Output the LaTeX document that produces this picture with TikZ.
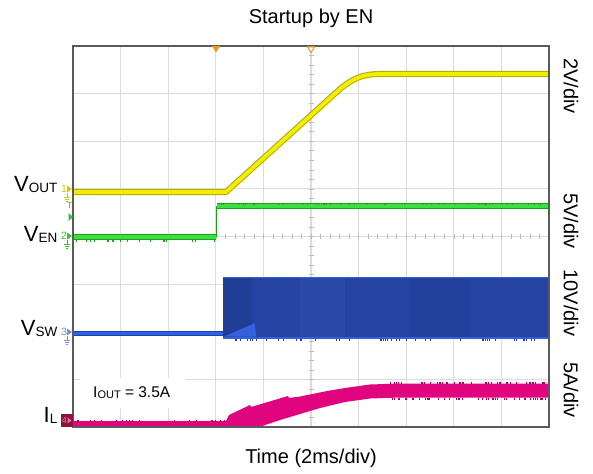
\documentclass[tikz,border=0pt]{standalone}
\usepackage{fontspec}
\setmainfont{Liberation Sans}
\definecolor{gridgray}{HTML}{DCDCDC}
\definecolor{framegray}{HTML}{5A5A5A}
\definecolor{ylwcore}{HTML}{F2EE00}
\definecolor{ylwedge}{HTML}{B4AE00}
\definecolor{grncore}{HTML}{3CE03C}
\definecolor{grnedge}{HTML}{1FA01F}
\definecolor{blucore}{HTML}{2F62E2}
\definecolor{bluedge}{HTML}{1D3FB0}
\definecolor{bluband}{HTML}{2443A3}
\definecolor{blulite}{HTML}{3560DC}
\definecolor{magcore}{HTML}{E0047E}
\definecolor{magedge}{HTML}{B0005F}
\definecolor{magbox}{HTML}{8E1436}
\definecolor{mrkorange}{HTML}{F0951E}
\newcommand\chanmark[3]{% y position, colour, channel number
  \node[text=#2,font=\fontsize{10.5}{10.5}\selectfont,inner sep=0pt] at (64,#1) {#3};
  \fill[#2] (67,#1-3.5) -- (72,#1) -- (67,#1+3.5) -- cycle;
  \draw[#2,line width=0.6pt] (67,#1+3.5) -- (67,#1+8)
    (63.8,#1+8) -- (70.2,#1+8) (64.8,#1+10) -- (69.2,#1+10) (65.8,#1+12) -- (68.2,#1+12);
}
\begin{document}
\begin{tikzpicture}[x=1pt,y=-1pt,
  gridline/.style={draw=gridgray,line width=1.2pt},
  minortick/.style={draw=gridgray!85!black,line width=0.6pt},
  biglabel/.style={font=\fontsize{20}{24}\selectfont,inner sep=0pt},
  sidelabel/.style={font=\fontsize{20}{24}\selectfont,inner sep=0pt,rotate=-90},
  noise/.style={line width=0.45pt}]
\useasboundingbox (0,0) rectangle (593,473);
\fill[white] (0,0) rectangle (593,473);

% graticule
\foreach \i in {1,...,9}
  \draw[gridline] ({73+47.6*\i},46) -- ({73+47.6*\i},427);
\foreach \j in {1,...,7}
  \draw[gridline] (73,{46+47.625*\j}) -- (549,{46+47.625*\j});
\foreach \k in {1,...,39}
  \draw[minortick] (308.5,{46+9.525*\k}) -- (313.5,{46+9.525*\k});
\foreach \k in {1,...,49}
  \draw[minortick] ({73+9.52*\k},234) -- ({73+9.52*\k},239);

% box behind the load annotation
\fill[white] (80,378) rectangle (186,408);

% channel 1: output voltage
\draw[ylwedge,line width=6pt,line join=round]
  (73,192) -- (226,192) -- (340,89) .. controls (352,79) and (362,74) .. (380,74) -- (549,74);
\draw[ylwcore,line width=3.8pt,line join=round]
  (73,192) -- (226,192) -- (340,89) .. controls (352,79) and (362,74) .. (380,74) -- (549,74);

% channel 2: enable
\draw[grnedge,line width=1pt] (216,237) -- (216,206);
\draw[grnedge,line width=5.5pt] (73,237) -- (215.5,237);
\draw[grncore,line width=3.4pt] (73,237) -- (215.5,237);
\draw[grnedge,line width=5.5pt] (216.5,206) -- (549,206);
\draw[grncore,line width=3.4pt] (216.5,206) -- (549,206);

% channel 3: switch node
\draw[bluedge,line width=5pt] (73,333.5) -- (224,333.5);
\draw[blucore,line width=3pt] (73,333.5) -- (224,333.5);
\fill[bluband] (223,276.5) rectangle (549,338.5);
\fill[bluband!92!black] (223,278) rectangle (252,337);
\fill[bluband!97!white] (300,278) rectangle (345,337);
\fill[bluband!96!black] (410,278) rectangle (470,337);
\fill[blulite] (224,336.5) -- (255,323) -- (256,336.5) -- cycle;
\draw[blulite,line width=1.6pt] (223,277.3) -- (549,277.3);
\draw[blulite,line width=1.6pt] (223,337.7) -- (549,337.7);

% channel 4: inductor current
\draw[magcore,line width=4.5pt] (73,423.5) -- (227,423.5);
\fill[magcore] (226,426) -- (226,421) -- (229,415) -- (250,405) -- (251,407)
  -- (288,396) -- (289,398) -- (300,396.5) -- (327,391) -- (345,388) -- (370,384.5)
  -- (400,383.5) -- (549,383.5) -- (549,397.5) -- (400,397.5) -- (370,398.5)
  -- (345,402) -- (320,408) -- (300,414) -- (280,420) -- (262,426) -- cycle;

% acquisition noise on the traces
\pgfmathsetseed{4711}
\foreach \n in {1,...,45}{
  \pgfmathsetmacro\xa{220+326*rnd}
  \draw[grnedge,noise] (\xa,202.5) -- (\xa,204.5);
  \pgfmathsetmacro\xb{224+324*rnd}
  \draw[bluedge,noise] (\xb,338.5) -- (\xb,340.5);
  \pgfmathsetmacro\xc{390+158*rnd}
  \draw[magedge,noise] (\xc,381.5) -- (\xc,383.5);
  \pgfmathsetmacro\xd{390+158*rnd}
  \draw[magedge,noise] (\xd,397.5) -- (\xd,399.5);
}
\foreach \n in {1,...,20}{
  \pgfmathsetmacro\xe{76+148*rnd}
  \draw[magedge,noise] (\xe,419.5) -- (\xe,421.5);
  \pgfmathsetmacro\xf{76+138*rnd}
  \draw[grnedge,noise] (\xf,239.5) -- (\xf,241.5);
}

% screen frame
\draw[framegray,line width=1.5pt] (73,46) rectangle (549,427);

% trigger position and reference markers
\fill[mrkorange] (212,46) -- (220,46) -- (216,52.5) -- cycle;
\filldraw[fill=white,draw=mrkorange,line width=1pt] (307.5,46.8) -- (314.5,46.8) -- (311,52.5) -- cycle;

% channel markers at the left edge
\chanmark{189}{ylwcore!85!black}{1}
\chanmark{236}{grncore!85!black}{2}
\chanmark{332}{blucore!70!white}{3}
\node[text=grncore!85!black,font=\fontsize{9}{9}\selectfont,inner sep=0pt] (trig) at (69.5,205.5) {T};
\fill[grncore!85!black] (68.5,213) -- (73,217) -- (68.5,221) -- cycle;
\fill[magbox] (61,414) rectangle (73,427);
\node[text=magcore!60!white,font=\fontsize{9}{9}\selectfont,inner sep=0pt] (ch4) at (64.5,420.5) {4};
\fill[magcore!60!white] (67.5,417.5) -- (71.5,420.5) -- (67.5,423.5) -- cycle;

% texts
\node[biglabel] (title) at (311,18) {Startup by EN};
\node[biglabel] (xaxis) at (311,458) {Time (2ms/div)};
\node[sidelabel] (s1) at (571,86) {2V/div};
\node[sidelabel] (s2) at (571,221) {5V/div};
\node[sidelabel] (s3) at (571,303) {10V/div};
\node[sidelabel] (s4) at (571,390) {5A/div};

\node[anchor=base east,inner sep=0pt] (vout) at (57.5,191)
  {\fontsize{22}{24}\selectfont V\raisebox{-1.2pt}{\fontsize{13.5}{14}\selectfont OUT}};
\node[anchor=base east,inner sep=0pt] (ven) at (57.5,241)
  {\fontsize{22}{24}\selectfont V\raisebox{-1.2pt}{\fontsize{13.5}{14}\selectfont EN}};
\node[anchor=base east,inner sep=0pt] (vsw) at (57.5,335)
  {\fontsize{22}{24}\selectfont V\raisebox{-1.2pt}{\fontsize{13.5}{14}\selectfont SW}};
\node[anchor=base east,inner sep=0pt] (il) at (57.5,422)
  {\fontsize{22}{24}\selectfont I\raisebox{-1.2pt}{\fontsize{13.5}{14}\selectfont L}};
\node[anchor=base west,inner sep=0pt] (iout) at (93,397)
  {\fontsize{15.5}{17}\selectfont I\raisebox{-1pt}{\fontsize{11}{12}\selectfont OUT} = 3.5A};
\end{tikzpicture}
\end{document}
